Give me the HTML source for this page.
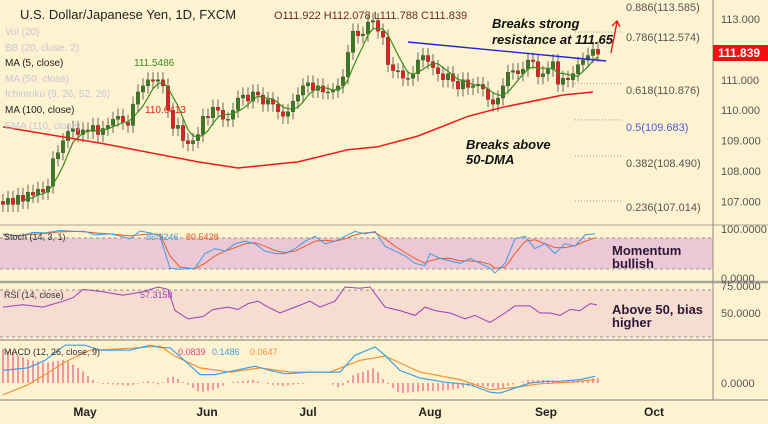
<!DOCTYPE html>
<html><head><meta charset="utf-8"><style>
body{margin:0;background:#fdf3d0;}
svg{display:block;font-family:"Liberation Sans",sans-serif;}
</style></head><body>
<svg id="c" width="768" height="424" viewBox="0 0 768 424">
<rect width="768" height="424" fill="#fdf3d0"/>
<g id="panes"></g>
<g id="marks"></g>
<g id="labels"></g>
</svg>
<script>
// ---- data ----
const closes=[106.9,107.1,106.9,107.2,107.0,107.3,107.2,107.4,107.3,107.5,
108.4,108.6,109.0,109.3,109.4,109.2,109.35,109.3,109.5,109.2,
109.4,109.5,109.7,109.8,109.6,109.5,110.2,110.6,110.8,111.0,
110.95,111.0,110.8,110.0,109.4,109.5,109.0,108.9,109.0,109.2,
109.8,109.75,110.1,110.0,109.7,109.7,110.0,110.4,110.5,110.3,
110.6,110.5,110.2,110.35,110.2,109.95,109.8,109.95,110.3,110.5,
110.8,110.9,110.65,110.8,110.6,110.6,110.65,110.8,111.1,111.9,
112.6,112.45,112.5,112.9,112.95,112.6,112.4,111.5,111.3,111.3,
111.05,111.05,111.2,111.65,111.8,111.6,111.4,111.2,111.0,111.2,
110.95,110.7,111.0,110.75,110.8,110.85,110.7,110.35,110.2,110.4,
110.8,111.25,111.3,111.2,111.35,111.65,111.6,111.1,111.2,111.35,
111.6,110.85,111.05,111.0,111.2,111.5,111.65,111.8,112.0,111.84];
const firstOpen=107.0;
const ma100Days=[0,20,39,47,59,69,75,83,93,100,112,118];
const ma100Vals=[109.45,108.9,108.3,108.1,108.3,108.7,108.8,109.15,109.8,110.1,110.5,110.6];
const stochDays=[0,3,6,8.4,11.4,14.4,16.4,18.4,21.4,23.4,25.4,27.4,29.4,31.4,33.4,35.4,38.4,40.4,42.4,44.4,46.4,48.4,50.4,52.4,54.4,56.4,58.4,60.4,62.4,64.4,66.4,68.4,70.4,72.4,74.4,76.4,78.4,80.4,82.4,84.4,85.4,87.4,89.4,91.4,93.4,95.4,97.4,98.4,100.4,102.4,104.4,106.4,108.4,110.4,112.4,114.4,116.4,118.4];
const stochK=[90,85,93,92,97,95,95,88,90,86,80,96,92,85,20,18,20,50,60,55,70,75,70,55,50,50,60,75,85,70,75,85,95,90,95,65,55,45,30,25,50,40,35,30,40,30,20,10,30,80,85,60,70,50,70,65,88,90];
const stochD=[88,87,89,91,94,95,94,92,90,88,86,88,90,89,45,22,19,30,45,55,62,70,72,65,56,52,55,65,75,77,75,80,88,92,93,80,65,52,40,30,35,40,40,35,35,33,28,20,22,50,75,78,70,62,62,66,75,82];
const rsiDays=[0,4,8,12,14,16,20,24,28,31,33,34.4,37,40,42,45,47,49,51,53,55.4,58.4,61.4,63.4,66.4,68.4,71.4,73.4,76.4,79.4,82.4,84.4,86.4,89.4,92.4,94.4,97.4,100.4,102.4,105.4,107.4,109.4,111.4,113.4,115.4,117.4,118.8];
const rsiVals=[55,57,55,60,63,70,68,65,68,72,70,52,45,47,53,55,53,58,60,55,50,55,60,55,60,72,71,72,55,52,48,55,52,50,45,48,42,50,56,56,50,50,48,53,52,58,57];
const macdDays=[0,5,8.4,12.4,16.4,19.4,21.4,25.4,29.4,31.4,33.4,37.4,39.4,42.4,46.4,50.4,53.4,56.4,61.4,67.4,70.4,74.4,76.4,79.4,83.4,88.4,93.4,97.4,99.4,102.4,105.4,108.4,111.4,115.4,118.4];
const macdVals=[0.15,0.18,0.27,0.45,0.45,0.39,0.39,0.39,0.45,0.42,0.42,0.21,0.10,0.10,0.15,0.20,0.15,0.11,0.13,0.13,0.33,0.43,0.33,0.15,0.06,0.01,-0.02,-0.11,-0.12,-0.06,0,0.02,0.02,0.04,0.08];
const signalDays=[0,5,8.4,12.4,17.4,21.4,27.4,31.4,34.4,39.4,45.4,51.4,57.4,65.4,71.4,76.4,83.4,91.4,97.4,101.4,107.4,113.4,118.4];
const signalVals=[-0.14,-0.02,0.10,0.25,0.39,0.40,0.42,0.44,0.32,0.18,0.13,0.18,0.13,0.13,0.27,0.32,0.13,0.04,-0.08,-0.06,-0.01,0.01,0.04];
const priceTicks=[113,111,110,109,108,107];
const months=["May","Jun","Jul","Aug","Sep","Oct"];
const monthDays=[16.4,40.8,61,85.4,108.6,130.2];
const fibLevels=["0.886(113.585)","0.786(112.574)","0.618(110.876)","0.5(109.683)","0.382(108.490)","0.236(107.014)"];
const fibPrices=[113.585,112.574,110.876,109.683,108.490,107.014];

// ---- scales ----
const X=i=>3+i*5;
const Y=p=>19+(113-p)*30.4;
const YS=v=>278-v*0.49;
const YR=v=>313-(v-50)*1.18;
const YM=v=>383-v*84;
const NS="http://www.w3.org/2000/svg";
function mk(parent,tag,attrs,text){const e=document.createElementNS(NS,tag);for(const k in attrs)e.setAttribute(k,attrs[k]);if(text!=null)e.textContent=text;document.getElementById(parent).appendChild(e);return e;}
function interp(days,vals,d){if(d<=days[0])return vals[0];for(let k=1;k<days.length;k++){if(d<=days[k]){const t=(d-days[k-1])/(days[k]-days[k-1]);return vals[k-1]+t*(vals[k]-vals[k-1]);}}return vals[vals.length-1];}
function poly(parent,days,vals,ys,color,w,name){const pts=days.map((d,k)=>X(d).toFixed(1)+","+ys(vals[k]).toFixed(1)).join(" ");const e=mk(parent,"polyline",{points:pts,fill:"none",stroke:color,"stroke-width":w});


return e;}

// ---- panes ----
let e;
e=mk("panes","rect",{x:0,y:238,width:713,height:31,fill:"#ecc7d6"});


e=mk("panes","rect",{x:0,y:290,width:713,height:47,fill:"#f7dcd0"});


[[238],[269],[290],[337]].forEach(a=>{mk("panes","line",{x1:0,x2:713,y1:a[0],y2:a[0],stroke:"#9a8f98","stroke-dasharray":"3,3","stroke-width":1});});
[[225,1],[282,2.5],[340,1.5],[400,1.5]].forEach(a=>{mk("panes","line",{x1:0,x2:768,y1:a[0],y2:a[0],stroke:"#a8a49a","stroke-width":a[1]});});
mk("panes","line",{x1:713,x2:713,y1:0,y2:400,stroke:"#8e8a80","stroke-width":1});

// fib lines
fibPrices.forEach((p,k)=>{if(k===0)return;const l=mk("panes","line",{x1:575,x2:622,y1:Y(p),y2:Y(p),stroke:"#999","stroke-dasharray":"1,2"});

});

// ---- candles ----
closes.forEach((c,i)=>{const o=i===0?firstOpen:closes[i-1];const up=c>=o;const col=up?"#3b7a22":"#e61e1e";
const hi=Math.max(o,c)+0.25,lo=Math.min(o,c)-0.25;
const w=mk("marks","line",{x1:X(i),x2:X(i),y1:Y(hi),y2:Y(lo),stroke:"#444","stroke-width":0.8});


const b=mk("marks","rect",{x:X(i)-1.8,y:Math.min(Y(o),Y(c)),width:3.6,height:Math.max(1,Math.abs(Y(o)-Y(c))),fill:col,stroke:"#333","stroke-width":0.3});

});
// MA5
const ma5d=[],ma5v=[];closes.forEach((c,i)=>{if(i>=4){ma5d.push(i);ma5v.push(closes.slice(i-4,i+1).reduce((a,b)=>a+b,0)/5);}});
poly("marks",ma5d,ma5v,Y,"#3d8a1e",1.2,"ma5-line");
poly("marks",ma100Days,ma100Vals,Y,"#f01818",1.5,"ma100-line");
// trendline and arrow
e=mk("marks","line",{x1:408,y1:42,x2:606,y2:61,stroke:"#2424d8","stroke-width":1.4});


e=mk("marks","path",{d:"M611,53 L617,22 M612,26 L617,21 L620,27",stroke:"#e81010","stroke-width":1.3,fill:"none"});


// oscillators
poly("marks",stochDays,stochD,YS,"#f05a28",1,"stoch-d-line");
poly("marks",stochDays,stochK,YS,"#3e9be8",1,"stoch-k-line");
poly("marks",rsiDays,rsiVals,YR,"#9a3fb8",1,"rsi-line");
for(let i=0;i<120;i++){const h=interp(macdDays,macdVals,i)-interp(signalDays,signalVals,i);
const r=mk("marks","line",{x1:X(i),x2:X(i),y1:YM(0),y2:YM(h*1.4),stroke:"#ee3a78","stroke-width":1});

}
poly("marks",signalDays,signalVals,YM,"#f5913a",1.2,"macd-signal-line");
poly("marks",macdDays,macdVals,YM,"#3ea0e8",1.2,"macd-line");

// ---- labels ----
function txt(x,y,s,attrs,name){const t=mk("labels","text",Object.assign({x:x,y:y,"font-size":11,fill:"#333"},attrs||{}),s);

return t;}
priceTicks.forEach(p=>txt(721,Y(p)+4,p.toFixed(3),{fill:"#555"},"price-tick"));
e=mk("labels","rect",{x:713,y:45,width:55,height:16,fill:"#f01010"});


txt(718,57,"111.839",{fill:"#fff","font-weight":"bold","font-size":12},"last-price-label");
months.forEach((m,k)=>txt(X(monthDays[k]),416,m,{"font-weight":"bold","text-anchor":"middle","font-size":12,fill:"#222"},"month-label"));
fibLevels.forEach((s,k)=>{const ys=[11,41,94,131,167,211];txt(626,ys[k],s,{fill:k===3?"#4a5ae8":"#555"},"fib-label");});
txt(721,233,"100.0000",{fill:"#555"},"stoch-tick-100");
txt(721,282,"0.0000",{fill:"#555"},"stoch-tick-0");
txt(721,290,"75.0000",{fill:"#555"},"rsi-tick-75");
txt(721,317,"50.0000",{fill:"#555"},"rsi-tick-50");
txt(721,387,"0.0000",{fill:"#555"},"macd-tick-0");
txt(20,19,"U.S. Dollar/Japanese Yen, 1D, FXCM",{"font-size":13,fill:"#222"},"chart-title");
txt(274,19,"O111.922  H112.078  L111.788  C111.839",{"font-size":11,fill:"#6b2a1a","xml:space":"preserve"},"ohlc-values");
const legs=[["Vol (20)",35,"#c8c4d8"],["BB (20, close, 2)",51,"#c8c4d8"],["MA (5, close)",66,"#222"],["MA (50, close)",82,"#c8c4d8"],["Ichimoku (9, 26, 52, 26)",97,"#c8c4d8"],["MA (100, close)",113,"#222"],["EMA (110, close)",129,"#c8c4d8"]];
legs.forEach(l=>txt(5,l[1],l[0],{"font-size":10,fill:l[2]},"indicator-legend"));
txt(134,66,"111.5486",{"font-size":10,fill:"#3d8a1e"},"ma5-value");
txt(145,113,"110.6413",{"font-size":10,fill:"#f01818"},"ma100-value");
txt(4,240,"Stoch (14, 3, 1)",{"font-size":9},"stoch-legend");
txt(146,240,"85.9246",{"font-size":9,fill:"#3e9be8"},"stoch-k-value");
txt(186,240,"80.5428",{"font-size":9,fill:"#f05a28"},"stoch-d-value");
txt(4,298,"RSI (14, close)",{"font-size":9},"rsi-legend");
txt(140,298,"57.3158",{"font-size":9,fill:"#9a3fb8"},"rsi-value");
txt(4,355,"MACD (12, 26, close, 9)",{"font-size":9},"macd-legend");
txt(178,355,"0.0839",{"font-size":9,fill:"#ee3a78"},"macd-hist-value");
txt(212,355,"0.1486",{"font-size":9,fill:"#3ea0e8"},"macd-value");
txt(250,355,"0.0647",{"font-size":9,fill:"#f5913a"},"signal-value");
const an={"font-size":13,"font-weight":"bold","font-style":"italic",fill:"#111"};
txt(492,28,"Breaks strong",an,"annotation-resistance");
txt(492,44,"resistance at 111.65",an,"annotation-resistance-2");
txt(466,149,"Breaks above",an,"annotation-dma");
txt(466,164,"50-DMA",an,"annotation-dma-2");
const an2={"font-size":13,"font-weight":"bold",fill:"#2a1838"};
txt(612,255,"Momentum",an2,"annotation-momentum");
txt(612,268,"bullish",an2,"annotation-momentum-2");
txt(612,314,"Above 50, bias",an2,"annotation-rsi");
txt(612,327,"higher",an2,"annotation-rsi-2");
</script>
</body></html>
